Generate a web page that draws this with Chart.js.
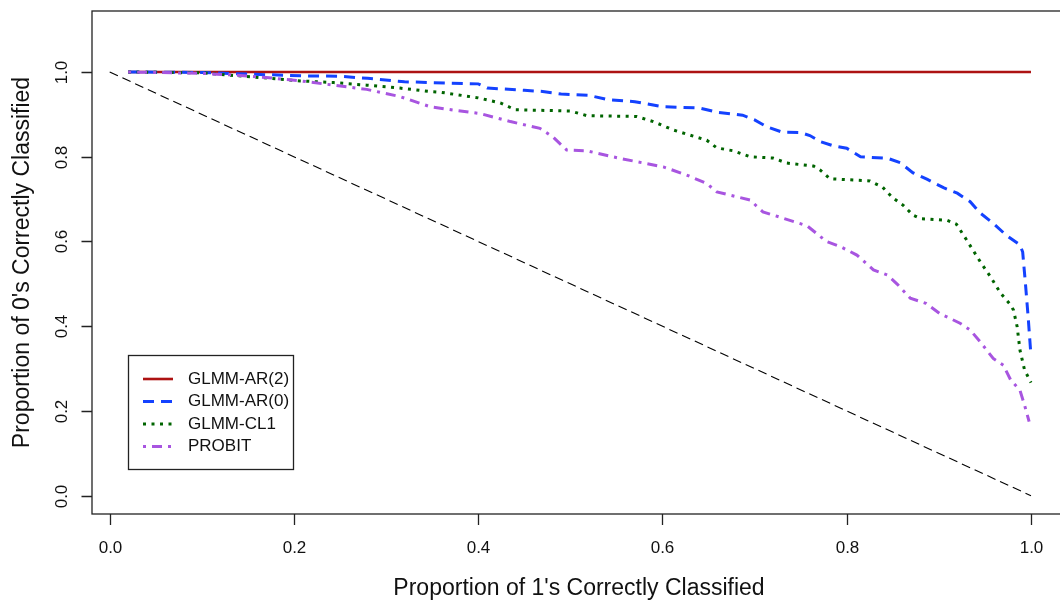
<!DOCTYPE html>
<html lang="en">
<head>
<meta charset="UTF-8">
<title>Proportion correctly classified</title>
<script src="https://cdn.jsdelivr.net/npm/chart.js"></script>
<style>
  body { margin: 0; background: #fff; }
  #wrap { width: 1060px; height: 607px; }
</style>
</head>
<body>
<div id="wrap"><canvas id="roc" width="1060" height="607"></canvas></div>
<script>
// series: x = proportion of 1's, y = proportion of 0's
const seriesNames = ['GLMM-AR(2)', 'GLMM-AR(0)', 'GLMM-CL1', 'PROBIT'];

const ar2X = [0.02, 1.0];
const ar2Y = [1.0, 1.0];

const ar0X = [0.02, 0.10, 0.15, 0.21, 0.25, 0.28, 0.32, 0.35, 0.40, 0.41, 0.45, 0.47, 0.49, 0.52, 0.54, 0.57, 0.60,
              0.64, 0.66, 0.687, 0.70, 0.713, 0.73, 0.75, 0.76, 0.771, 0.785, 0.80, 0.815, 0.845, 0.858, 0.872, 0.887,
              0.905, 0.92, 0.934, 0.945, 0.959, 0.973, 0.988, 0.991, 0.994, 0.997, 1.0];
const ar0Y = [1.0, 0.999, 0.995, 0.991, 0.990, 0.985, 0.977, 0.975, 0.972, 0.962, 0.957, 0.954, 0.948, 0.945, 0.935, 0.930, 0.918,
              0.915, 0.905, 0.898, 0.887, 0.871, 0.858, 0.857, 0.850, 0.836, 0.826, 0.820, 0.800, 0.796, 0.786, 0.762, 0.747,
              0.727, 0.714, 0.694, 0.667, 0.643, 0.615, 0.592, 0.575, 0.500, 0.420, 0.330];

const cl1X = [0.02, 0.10, 0.116, 0.163, 0.207, 0.243, 0.279, 0.315, 0.348, 0.36, 0.40, 0.424, 0.44, 0.50, 0.518, 0.572, 0.59,
              0.612, 0.648, 0.659, 0.677, 0.695, 0.72, 0.735, 0.764, 0.771, 0.782, 0.825, 0.839, 0.85, 0.861, 0.872, 0.88,
              0.909, 0.919, 0.93, 0.945, 0.956, 0.967, 0.978, 0.981, 0.985, 0.988, 0.993, 1.0];
const cl1Y = [1.0, 0.998, 0.995, 0.987, 0.979, 0.975, 0.969, 0.962, 0.954, 0.952, 0.939, 0.927, 0.911, 0.908, 0.897, 0.895, 0.883,
              0.863, 0.839, 0.821, 0.814, 0.800, 0.797, 0.785, 0.778, 0.769, 0.748, 0.743, 0.728, 0.703, 0.686, 0.662, 0.654,
              0.650, 0.641, 0.604, 0.552, 0.517, 0.478, 0.450, 0.438, 0.399, 0.344, 0.297, 0.267];

const probitX = [0.02, 0.098, 0.134, 0.17, 0.207, 0.243, 0.279, 0.315, 0.348, 0.373, 0.402, 0.435, 0.467, 0.481, 0.496, 0.518,
                 0.554, 0.601, 0.626, 0.648, 0.659, 0.695, 0.709, 0.728, 0.757, 0.778, 0.793, 0.811, 0.829, 0.844, 0.855,
                 0.869, 0.886, 0.901, 0.923, 0.934, 0.945, 0.959, 0.970, 0.978, 0.988, 0.993, 0.998];
const probitY = [1.0, 0.997, 0.993, 0.987, 0.979, 0.969, 0.959, 0.942, 0.918, 0.910, 0.902, 0.883, 0.867, 0.847, 0.816, 0.814,
                 0.796, 0.776, 0.757, 0.737, 0.717, 0.698, 0.670, 0.657, 0.637, 0.600, 0.588, 0.568, 0.533, 0.521, 0.499,
                 0.466, 0.454, 0.430, 0.407, 0.391, 0.363, 0.324, 0.308, 0.273, 0.249, 0.214, 0.175];

// chance line
const diagX = [0, 1];
const diagY = [1, 0];

const xTicks = [0, 0.2, 0.4, 0.6, 0.8, 1.0];
const yTicks = [0, 0.2, 0.4, 0.6, 0.8, 1.0];
const xTitle = "Proportion of 1's Correctly Classified";
const yTitle = "Proportion of 0's Correctly Classified";

const FONT = '"Liberation Sans", Arial, Helvetica, sans-serif';

function pts(xs, ys) {
    return xs.map((x, i) => ({ x: x, y: ys[i] }));
}

function series(label, xs, ys, color, width, dash, order) {
    return {
        label: label,
        data: pts(xs, ys),
        borderColor: color,
        borderWidth: width,
        borderDash: dash,
        borderCapStyle: 'butt',
        pointRadius: 0,
        tension: 0,
        fill: false,
        order: order
    };
}

// R-like box, outward ticks, rotated y labels and the legend box
const rFrame = {
    id: 'rFrame',
    afterDraw(chart) {
        const { ctx, chartArea: a, scales: { x, y } } = chart;
        ctx.save();
        ctx.strokeStyle = '#222';
        ctx.lineWidth = 1.3;
        ctx.setLineDash([]);
        ctx.strokeRect(a.left, a.top, a.right + 12 - a.left, a.bottom - a.top);

        ctx.fillStyle = '#111';
        ctx.font = '17px ' + FONT;
        ctx.textAlign = 'center';
        ctx.textBaseline = 'middle';
        ctx.beginPath();
        xTicks.forEach(v => {
            const px = Math.round(x.getPixelForValue(v)) + 0.5;
            ctx.moveTo(px, a.bottom);
            ctx.lineTo(px, a.bottom + 11);
            ctx.fillText(v.toFixed(1), px, 548);
        });
        yTicks.forEach(v => {
            const py = Math.round(y.getPixelForValue(v)) + 0.5;
            ctx.moveTo(a.left, py);
            ctx.lineTo(a.left - 10.5, py);
            ctx.save();
            ctx.translate(62, py);
            ctx.rotate(-Math.PI / 2);
            ctx.fillText(v.toFixed(1), 0, 0);
            ctx.restore();
        });
        ctx.stroke();

        // axis titles
        ctx.font = '23px ' + FONT;
        ctx.fillText(xTitle, (a.left + 1066) / 2, 589);
        ctx.save();
        ctx.translate(23, (a.top + a.bottom) / 2);
        ctx.rotate(-Math.PI / 2);
        ctx.fillText(yTitle, 0, 0);
        ctx.restore();

        // legend
        ctx.fillStyle = '#fff';
        ctx.fillRect(128.5, 355.5, 165, 114);
        ctx.strokeStyle = '#222';
        ctx.lineWidth = 1.3;
        ctx.strokeRect(128.5, 355.5, 165, 114);
        ctx.font = '17px ' + FONT;
        ctx.textAlign = 'left';
        ctx.fillStyle = '#111';
        const rows = [379, 401.5, 424, 446.5];
        seriesNames.forEach((name, i) => {
            const ds = chart.data.datasets[i];
            ctx.strokeStyle = ds.borderColor;
            ctx.lineWidth = ds.borderWidth;
            ctx.setLineDash(ds.borderDash);
            ctx.beginPath();
            ctx.moveTo(143, rows[i]);
            ctx.lineTo(173, rows[i]);
            ctx.stroke();
            ctx.fillText(name, 188, rows[i]);
        });
        ctx.restore();
    }
};

new Chart(document.getElementById('roc'), {
    type: 'line',
    data: {
        datasets: [
            series(seriesNames[0], ar2X, ar2Y, '#AD1212', 2.6, [], 4),
            series(seriesNames[1], ar0X, ar0Y, '#1442FF', 3, [11, 7], 3),
            series(seriesNames[2], cl1X, cl1Y, '#006400', 3, [3, 5.5], 2),
            series(seriesNames[3], probitX, probitY, '#A855E0', 3, [3, 6, 10, 6], 1),
            series('diag', diagX, diagY, '#000', 1.1, [9, 5], 5)
        ]
    },
    options: {
        responsive: false,
        animation: false,
        devicePixelRatio: 1,
        layout: { padding: { top: 11, left: 0, right: 0, bottom: 0 } },
        plugins: { legend: { display: false }, tooltip: { enabled: false } },
        scales: {
            x: {
                type: 'linear',
                min: -0.0192,
                max: 1.0315,
                grid: { display: false },
                border: { display: false },
                ticks: { display: false },
                afterFit: s => { s.height = 93; }
            },
            y: {
                type: 'linear',
                min: -0.0432,
                max: 1.144,
                grid: { display: false },
                border: { display: false },
                ticks: { display: false },
                afterFit: s => { s.width = 92; }
            }
        }
    },
    plugins: [rFrame]
});
</script>
</body>
</html>
